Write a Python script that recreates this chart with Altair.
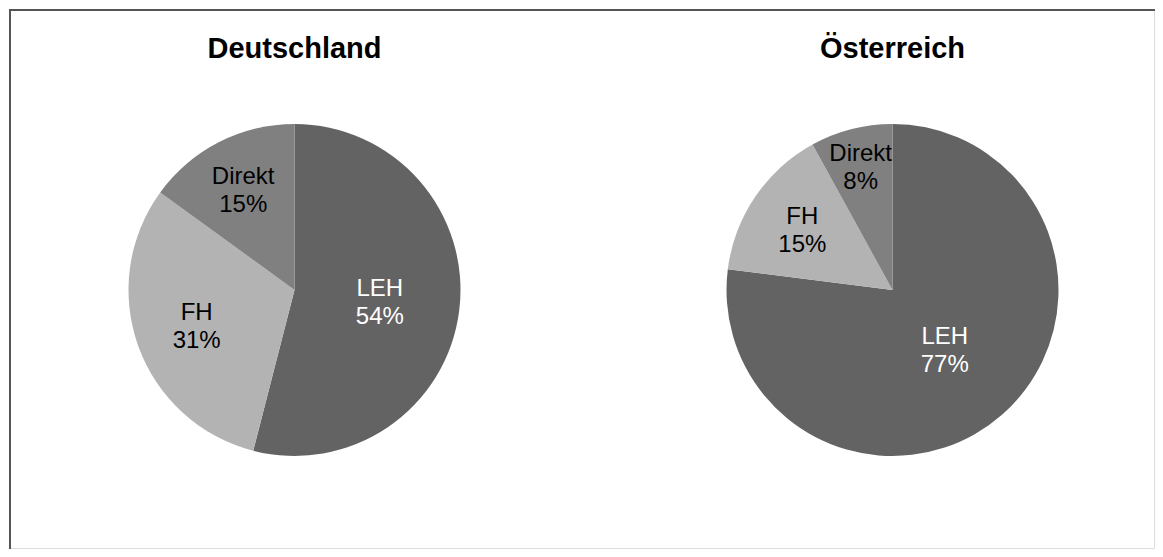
import math
import altair as alt
import pandas as pd

# ---- data ----
countries = ["Deutschland", "Österreich"]
categories = ["LEH", "FH", "Direkt"]
values_de = [54, 31, 15]
values_at = [77, 15, 8]

# ---- style ----
COLORS = ["#636363", "#b3b3b3", "#808080"]
FONT = "Liberation Sans"
PIE_R = 166
LABEL_R = {("Deutschland", "LEH"): 86, ("Deutschland", "FH"): 104, ("Deutschland", "Direkt"): 113,
           ("Österreich", "LEH"): 79, ("Österreich", "FH"): 109, ("Österreich", "Direkt"): 128}

rows = []
for c, vals in zip(countries, [values_de, values_at]):
    for i, (k, v) in enumerate(zip(categories, vals)):
        rows.append({"country": c, "category": k, "value": v, "order": i,
                     "label": f"{k}\n{v}%", "lr": LABEL_R[(c, k)]})
df = pd.DataFrame(rows)
titles = pd.DataFrame({"country": countries})

W, H = 1147, 541
xscale = alt.Scale(type="point", domain=countries, range=[285.5, 883.5], padding=0)
tscale = alt.Scale(domain=[0, 100], range=[0, 2 * math.pi])

base = alt.Chart(df).transform_window(
    end="sum(value)", groupby=["country"], sort=[alt.SortField("order")], frame=[None, 0]
).transform_calculate(
    start="datum.end - datum.value", mid="datum.end - datum.value / 2"
)

arcs = base.mark_arc(outerRadius=PIE_R, stroke=None).encode(
    x=alt.X("country:N", scale=xscale, axis=None),
    y=alt.value(281),
    theta=alt.Theta("start:Q", scale=tscale, stack=None),
    theta2="end:Q",
    color=alt.Color("category:N", scale=alt.Scale(domain=categories, range=COLORS), legend=None),
)

labels = base.mark_text(font=FONT, fontSize=24, lineBreak="\n", lineHeight=28, dy=-12,
                        align="center", baseline="middle").encode(
    x=alt.X("country:N", scale=xscale, axis=None),
    y=alt.value(281),
    theta=alt.Theta("mid:Q", scale=tscale, stack=None),
    radius=alt.Radius("lr:Q", scale=None),
    text="label:N",
    color=alt.condition(alt.datum.category == "LEH", alt.value("white"), alt.value("black")),
)

title_marks = alt.Chart(titles).mark_text(font=FONT, fontSize=29, fontWeight="bold",
                                          baseline="alphabetic", color="black").encode(
    x=alt.X("country:N", scale=xscale, axis=None),
    y=alt.value(49),
    text="country:N",
)

border_left = alt.Chart(titles).mark_rule(color="#555555", strokeWidth=2).encode(
    x=alt.value(1), y=alt.value(0), y2=alt.value(H))
border_top = alt.Chart(titles).mark_rule(color="#555555", strokeWidth=2).encode(
    y=alt.value(1), x=alt.value(0), x2=alt.value(W))

chart = alt.layer(arcs, labels, title_marks, border_left, border_top).properties(
    width=W, height=H, padding=0,
    autosize=alt.AutoSizeParams(type="fit", contains="padding"),
).configure_view(stroke=None).configure(background="white")

chart.save("out.html", embed_options={"renderer": "svg", "actions": False})
